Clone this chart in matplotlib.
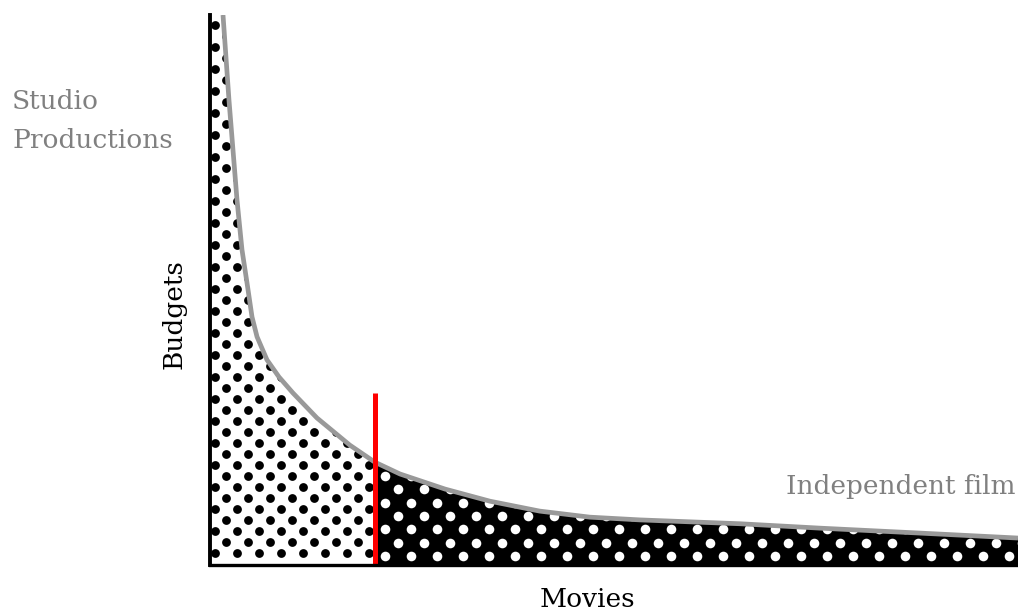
import matplotlib
matplotlib.use("Agg")
import numpy as np
import matplotlib.pyplot as plt
from matplotlib.patches import Polygon

# curve: share of movies (x) vs budget (y), both 0-100
movies = [1.61, 2.35, 3.34, 3.96, 4.58, 5.20, 5.82, 7.05, 8.54, 10.27, 13.24,
          17.3, 20.4, 23.51, 29.1, 34.65, 40.8, 47.0, 53.2, 65.6, 75.5, 87.9,
          100.0]
budgets = [100.0, 84.5, 66.4, 57.3, 51.3, 45.1, 41.5, 37.3, 34.18, 31.27, 26.73,
           21.8, 18.7, 16.55, 13.8, 11.6, 9.8, 8.7, 8.2, 7.5, 6.7, 5.8, 4.9]
split_x = 20.4
split_top = 31.3

x = np.array(movies)
y = np.array(budgets)

fig = plt.figure(figsize=(10.18, 6.10), dpi=100)
ax = fig.add_axes([210 / 1018, 45 / 610, 808 / 1018, 550 / 610])
ax.set_xlim(0, 100)
ax.set_ylim(0, 100)

left = x <= split_x
right = x >= split_x
studio_poly = Polygon(np.column_stack([np.r_[0, 0, x[left], split_x],
                                       np.r_[0, 100, y[left], 0]]),
                      closed=True, facecolor='white', edgecolor='none', zorder=1)
indie_poly = Polygon(np.column_stack([np.r_[split_x, x[right], 100],
                                      np.r_[0, y[right], 0]]),
                     closed=True, facecolor='black', edgecolor='none', zorder=1)
ax.add_patch(studio_poly)
ax.add_patch(indie_poly)


def dot_grid(x0, y0, dx, dy):
    pts = []
    j = 0
    yy = y0
    while yy < 101:
        off = x0 + (dx / 2 if j % 2 else 0)
        xs = np.arange(off - dx, 101, dx)
        pts.extend((xi, yy) for xi in xs)
        j += 1
        yy += dy
    return np.array(pts)


# dot pattern of the two areas
bd = dot_grid(0.62, 2.18, 22 * 100 / 808, 11 * 100 / 550)
dots1 = ax.scatter(bd[:, 0], bd[:, 1], s=40, color='black', linewidths=0, zorder=2)
dots1.set_clip_path(studio_poly)
wd = dot_grid(2.33, 1.64, 26 * 100 / 808, 13.3 * 100 / 550)
dots2 = ax.scatter(wd[:, 0], wd[:, 1], s=48, color='white', linewidths=0, zorder=2)
dots2.set_clip_path(indie_poly)

ax.plot(x, y, color='#999999', lw=3.4, solid_capstyle='butt',
        solid_joinstyle='round', zorder=3)
ax.plot([split_x, split_x], [0, split_top], color='#ff0000', lw=3.6,
        solid_capstyle='butt', zorder=4)

for s in ['top', 'right']:
    ax.spines[s].set_visible(False)
ax.spines['left'].set_linewidth(2.8)
ax.spines['bottom'].set_linewidth(2.4)
ax.spines['left'].set_zorder(5)
ax.spines['bottom'].set_zorder(5)
ax.set_xticks([])
ax.set_yticks([])

font = 'DejaVu Serif'
fs = 19
fig.text(12 / 1018, 1 - 109 / 610, 'Studio', family=font, fontsize=fs,
         color='#808080', va='baseline', ha='left')
fig.text(12 / 1018, 1 - 148 / 610, 'Productions', family=font, fontsize=fs,
         color='#808080', va='baseline', ha='left')
fig.text(1016 / 1018, 1 - 494 / 610, 'Independent film', family=font, fontsize=fs,
         color='#808080', va='baseline', ha='right')
fig.text(587 / 1018, 1 - 607 / 610, 'Movies', family=font, fontsize=fs,
         color='black', va='baseline', ha='center')
fig.text(182 / 1018, 1 - 314 / 610, 'Budgets', family=font, fontsize=fs,
         color='black', va='baseline', ha='center', rotation=90,
         rotation_mode='anchor')

fig.savefig('out.png', dpi=100)
